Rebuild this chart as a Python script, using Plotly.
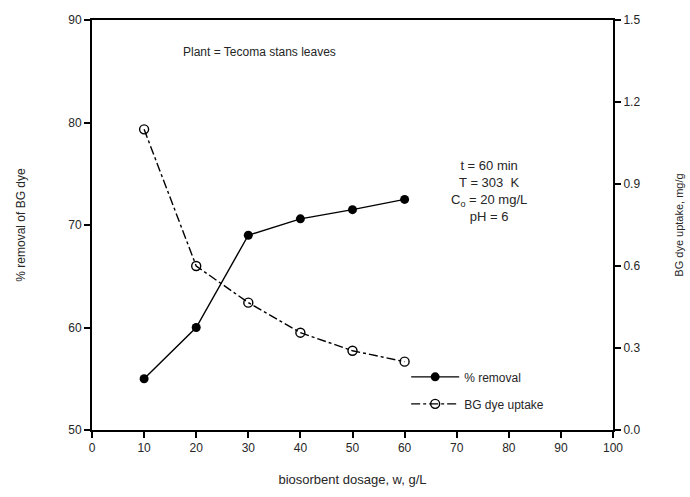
import plotly.graph_objects as go

# Biosorbent dosage (g/L)
dosage = [10, 20, 30, 40, 50, 60]
# % removal of BG dye
removal = [55.0, 60.0, 69.0, 70.6, 71.5, 72.5]
# BG dye uptake (mg/g)
uptake = [1.10, 0.60, 0.466, 0.356, 0.29, 0.25]

x_ticks = [0, 10, 20, 30, 40, 50, 60, 70, 80, 90, 100]
y_ticks = [50, 60, 70, 80, 90]
y2_ticks = [0.0, 0.3, 0.6, 0.9, 1.2, 1.5]

FONT = "Liberation Sans, Arial, sans-serif"
TXT = "#262626"

fig = go.Figure()
fig.add_trace(go.Scatter(
    x=dosage, y=removal, name="% removal", mode="lines+markers",
    legendgroup="a",
    line=dict(color="black", width=1.4),
    marker=dict(symbol="circle", size=9, color="black"),
))
fig.add_trace(go.Scatter(
    x=dosage, y=uptake, name="BG dye uptake", mode="lines+markers", yaxis="y2",
    legendgroup="b",
    line=dict(color="black", width=1.4, dash="dashdot"),
    marker=dict(symbol="circle-open", size=9, color="black", line=dict(width=1.4)),
))

axis_common = dict(
    showline=True, linecolor="black", linewidth=2,
    ticks="outside", ticklen=6, tickwidth=1.5, tickcolor="black",
    showgrid=False, zeroline=False, automargin=False,
    tickfont=dict(family=FONT, size=12, color=TXT),
)

fig.update_layout(
    width=690, height=497,
    margin=dict(l=92, r=77, t=20, b=67),
    paper_bgcolor="white", plot_bgcolor="white",
    font=dict(family=FONT, size=12, color=TXT),
    xaxis=dict(
        range=[0, 100], tickvals=x_ticks, mirror=True,
        title=dict(text="biosorbent dosage, w, g/L", standoff=20,
                   font=dict(family=FONT, size=13, color=TXT)),
        **axis_common,
    ),
    yaxis=dict(
        range=[50, 90], tickvals=y_ticks,
        title=dict(text="% removal of BG dye", standoff=40,
                   font=dict(family=FONT, size=12, color=TXT)),
        **axis_common,
    ),
    yaxis2=dict(
        range=[0, 1.5], tickvals=y2_ticks, tickformat=".1f",
        overlaying="y", side="right",
        title=dict(text="BG dye uptake, mg/g", standoff=36,
                   font=dict(family=FONT, size=11, color=TXT)),
        **axis_common,
    ),
    legend=dict(
        x=0.603, y=0.165, xanchor="left", yanchor="top",
        bgcolor="rgba(0,0,0,0)", borderwidth=0,
        font=dict(family=FONT, size=12, color=TXT),
        tracegroupgap=8, itemwidth=48,
    ),
    showlegend=True,
)

fig.add_annotation(
    x=0.322, y=0.945, xref="paper", yref="paper", showarrow=False,
    xanchor="center",
    text="Plant = Tecoma stans leaves",
    font=dict(family=FONT, size=12, color=TXT),
)
fig.add_annotation(
    x=0.762, y=0.668, xref="paper", yref="paper", showarrow=False,
    align="center", xanchor="center", yanchor="top",
    text="t = 60 min<br>T = 303  K<br>C<sub>o</sub> = 20 mg/L<br>pH = 6",
    font=dict(family=FONT, size=13, color=TXT),
)

fig.write_html("out.html")
